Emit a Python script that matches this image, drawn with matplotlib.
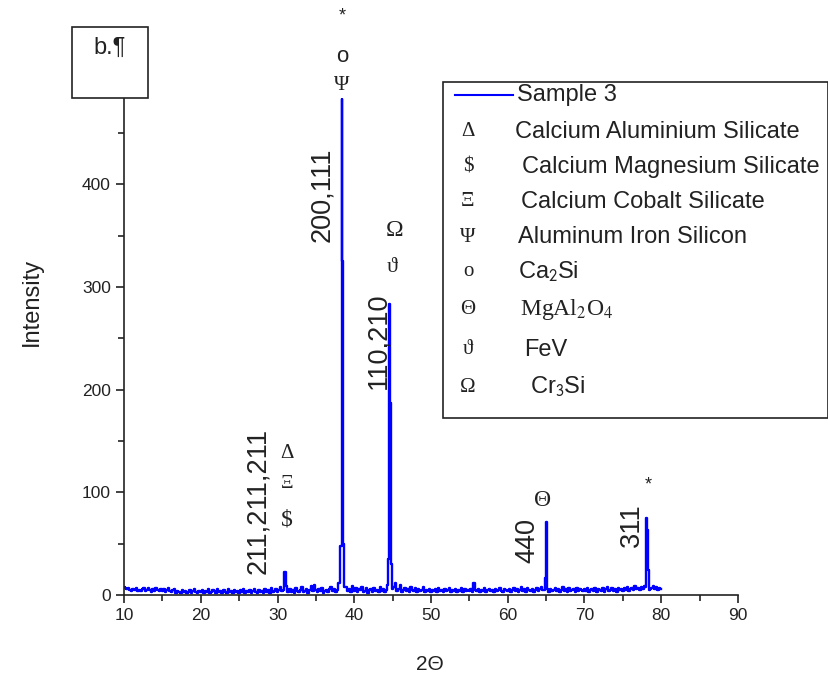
import numpy as np
import matplotlib
matplotlib.use("Agg")
import matplotlib.pyplot as plt
from matplotlib.patches import Rectangle
from matplotlib.lines import Line2D

plt.rcParams["font.family"] = ["Liberation Sans", "DejaVu Sans"]

# XRD pattern, Sample 3 (2-theta in degrees, intensity in counts)
two_theta_start = 10.0
two_theta_step = 0.2
baseline = [
    8, 7, 6, 7, 5, 4, 6, 5, 7, 4, 5, 4, 6, 7, 4, 5, 7, 5, 3, 6, 4, 7, 5, 4, 6,
    4, 6, 3, 5, 7, 4, 3, 5, 6, 2, 4, 3, 2, 5, 3, 4, 2, 3, 5, 2, 4, 6, 3, 2, 4,
    3, 5, 2, 4, 3, 6, 2, 3, 5, 4, 2, 6, 3, 4, 2, 5, 3, 2, 6, 3, 4, 2, 5, 3, 4,
    2, 5, 3, 6, 2, 4, 3, 5, 2, 4, 6, 3, 2, 5, 3, 4, 2, 6, 3, 5, 2, 7, 3, 4, 6,
    3, 5, 8, 4, 5, 6, 4, 3, 6, 3, 5, 2, 7, 4, 3, 5, 8, 3, 4, 6, 2, 5, 9, 4, 10,
    5, 3, 6, 4, 7, 2, 4, 5, 3, 6, 8, 4, 6, 3, 5, 7, 4, 7, 3, 5, 8, 4, 6, 3, 9,
    4, 7, 3, 6, 5, 8, 3, 4, 7, 2, 5, 6, 3, 7, 4, 5, 3, 8, 4, 6, 3, 5, 7, 4, 6,
    5, 8, 12, 4, 6, 10, 3, 5, 7, 4, 6, 3, 8, 5, 4, 7, 3, 6, 4, 5, 8, 3, 5, 4, 6,
    3, 5, 4, 6, 3, 7, 4, 5, 3, 6, 4, 5, 7, 3, 5, 4, 6, 3, 5, 4, 7, 3, 6, 4, 5,
    4, 6, 3, 12, 5, 4, 6, 3, 5, 4, 7, 3, 5, 6, 4, 5, 3, 6, 4, 5, 7, 4, 3, 6, 5,
    4, 6, 3, 5, 7, 4, 6, 3, 5, 8, 4, 6, 3, 7, 5, 4, 6, 3, 5, 7, 4, 6, 8, 5, 4,
    5, 7, 3, 6, 4, 5, 7, 4, 6, 3, 5, 8, 4, 6, 3, 7, 4, 5, 6, 3, 7, 4, 6, 5, 4,
    6, 4, 7, 3, 5, 6, 4, 7, 3, 6, 5, 4, 7, 3, 6, 8, 4, 5, 7, 4, 6, 3, 7, 5, 6,
    4, 7, 5, 8, 4, 6, 7, 5, 9, 6, 7, 5, 8, 6, 9, 7, 5, 8, 6, 7, 9, 6, 8, 5, 7,
    6,
]
# peak region points (override / add to the baseline)
peak_x = [31.0, 31.2,
          38.0, 38.2, 38.3, 38.4, 38.5, 38.6, 38.8,
          44.4, 44.5, 44.6, 44.7, 44.8, 45.0,
          64.8, 64.9, 65.0, 65.1, 65.2,
          78.0, 78.1, 78.2, 78.3, 78.4]
peak_y = [22, 9,
          12, 48, 48, 483, 325, 50, 8,
          10, 35, 283, 187, 30, 6,
          5, 17, 71, 39, 6,
          8, 75, 63, 24, 5]

pts = {round(two_theta_start + i * two_theta_step, 1): v for i, v in enumerate(baseline)}
for px_, py_ in zip(peak_x, peak_y):
    pts[round(px_, 1)] = py_
x = np.array(sorted(pts))
y = np.array([pts[k] for k in x])

# figure: 829 x 681 px
W, H = 829, 681
fig = plt.figure(figsize=(W / 100, H / 100), dpi=100)

def fx(px):
    return px / W

def fy(py):
    return 1 - py / H

ymax = 484
ax = fig.add_axes([fx(124), fy(595), fx(738) - fx(124), fy(98) - fy(595)])
ax.plot(x, y, color="#0000ff", lw=1.7, drawstyle="steps-mid")
ax.set_xlim(10, 90)
ax.set_ylim(0, ymax)

for s in ["top", "right"]:
    ax.spines[s].set_visible(False)
for s in ["left", "bottom"]:
    ax.spines[s].set_linewidth(1.2)
    ax.spines[s].set_color("#222222")

ax.set_xticks(np.arange(10, 91, 10))
ax.set_xticks(np.arange(15, 90, 10), minor=True)
ax.set_yticks([0, 100, 200, 300, 400])
ax.set_yticks([50, 150, 250, 350, 450], minor=True)
ax.tick_params(which="major", direction="out", length=6, width=1.2, labelsize=12.5, colors="#222222")
ax.tick_params(which="minor", direction="out", length=4, width=1.2, colors="#222222")
ax.tick_params(axis="x", pad=3)

fig.text(fx(32), fy(302), "Intensity", rotation=90, ha="center", va="center", fontsize=17, color="#222222")
fig.text(fx(430), fy(665), "2\u0398", ha="center", va="center", fontsize=15, color="#222222")

# peak annotations
ann_kw = dict(ha="center", va="center", color="#222222", clip_on=False)
rot = 19.5
ax.text(27.45, 92, "211,211,211", rotation=90, fontsize=rot, **ann_kw)
ax.text(35.8, 390, "200,111", rotation=90, fontsize=rot, **ann_kw)
ax.text(43.2, 248, "110,210", rotation=90, fontsize=rot, **ann_kw)
ax.text(62.5, 53, "440", rotation=90, fontsize=rot, **ann_kw)
ax.text(76.2, 68, "311", rotation=90, fontsize=rot, **ann_kw)

sym = ["Liberation Serif", "DejaVu Serif"]
ax.text(38.4, 564, "*", fontsize=13, **ann_kw)
ax.text(38.4, 524, "o", fontsize=16, **ann_kw)
ax.text(38.4, 496, "\u03a8", fontsize=15, family=sym, **ann_kw)
ax.text(45.3, 355, "\u03a9", fontsize=17, family=sym, **ann_kw)
ax.text(44.9, 319, "\u03d1", fontsize=16, family=sym, **ann_kw)
ax.text(31.2, 138, "\u0394", fontsize=15, family=sym, **ann_kw)
ax.text(31.2, 109, "\u039e", fontsize=14, family=sym, **ann_kw)
ax.text(31.2, 73, "$", fontsize=17, family=sym, **ann_kw)
ax.text(64.6, 92, "\u0398", fontsize=17, family=sym, **ann_kw)
ax.text(78.3, 107, "*", fontsize=13, **ann_kw)

# panel label box
fig.patches.append(Rectangle((fx(72), fy(98)), fx(148) - fx(72), fy(27) - fy(98),
                             transform=fig.transFigure, facecolor="white",
                             edgecolor="#222222", lw=1.2, zorder=5))
fig.text(fx(110), fy(48), "b.\u00b6", ha="center", va="center", fontsize=17,
         color="#222222", zorder=6)

# legend box
fig.patches.append(Rectangle((fx(443), fy(418)), fx(828) - fx(443), fy(82) - fy(418),
                             transform=fig.transFigure, facecolor="white",
                             edgecolor="#222222", lw=1.2, zorder=5))
fig.lines.append(Line2D([fx(455), fx(513)], [fy(95), fy(95)], transform=fig.transFigure,
                        color="#0000ff", lw=1.5, zorder=6))
leg_kw = dict(ha="left", va="center", color="#222222", zorder=6)
fig.text(fx(517), fy(95), "Sample 3", fontsize=17, **leg_kw)
legend_rows = [
    ("\u0394", "Calcium Aluminium Silicate", 132, 515),
    ("$", "Calcium Magnesium Silicate", 167, 522),
    ("\u039e", "Calcium Cobalt Silicate", 202, 521),
    ("\u03a8", "Aluminum Iron Silicon", 237, 518),
    ("o", "Ca$_{2}$Si", 272, 518),
    ("\u0398", "MgAl$_{2}$O$_{4}$", 310, 520),
    ("\u03d1", "FeV", 350, 524),
    ("\u03a9", "Cr$_{3}$Si", 387, 530),
]
for s, label, py, tx in legend_rows:
    fig.text(fx(468), fy(py), s, ha="center", va="center", fontsize=15, family=sym,
             color="#222222", zorder=6)
    if label.startswith("Mg"):
        fig.text(fx(tx), fy(py), label, fontsize=17, family=sym, math_fontfamily="stix", **leg_kw)
    else:
        fig.text(fx(tx), fy(py), label, fontsize=17, math_fontfamily="stixsans", **leg_kw)

fig.savefig("out.png", dpi=100)
